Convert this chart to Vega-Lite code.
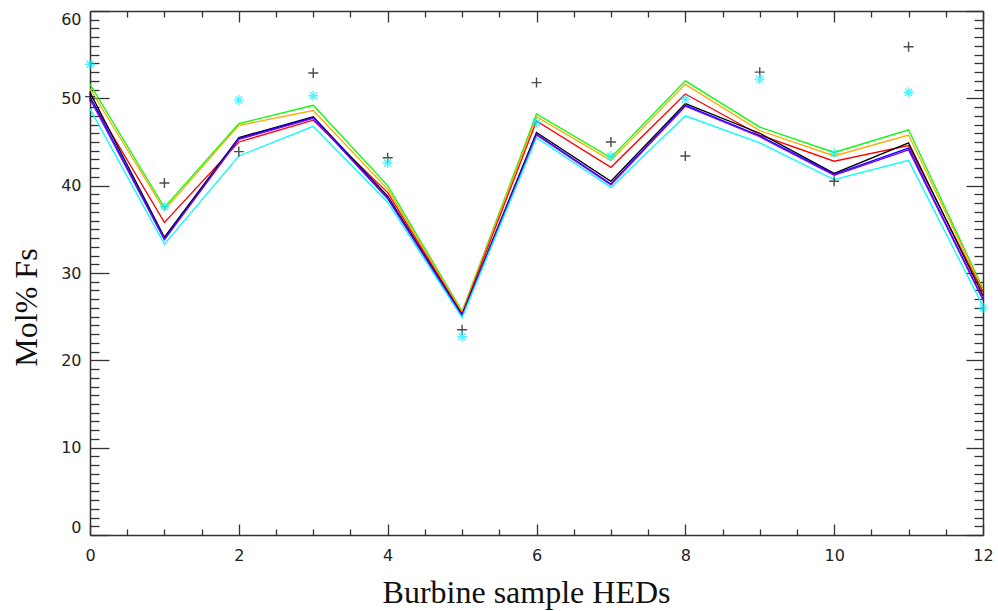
{
  "$schema": "https://vega.github.io/schema/vega-lite/v6.json",
  "width": 893,
  "height": 524,
  "autosize": {"type": "none"},
  "padding": {"left": 90, "top": 11, "right": 15, "bottom": 76},
  "background": "white",
  "config": {
    "view": {"stroke": null},
    "axis": {
      "grid": false,
      "domainColor": "#333333",
      "domainWidth": 1.5,
      "tickColor": "#333333",
      "tickWidth": 1.3,
      "labelFont": "DejaVu Sans",
      "labelFontSize": 16,
      "labelColor": "#222222",
      "labelOverlap": false,
      "titleFont": "Liberation Serif",
      "titleFontSize": 32,
      "titleFontWeight": "normal",
      "titleColor": "#111111"
    }
  },
  "datasets": {
    "models": [
      {"series": "g", "x": 0, "y": 51.6}, {"series": "g", "x": 1, "y": 37.5}, {"series": "g", "x": 2, "y": 47.1}, {"series": "g", "x": 3, "y": 49.2}, {"series": "g", "x": 4, "y": 40.0}, {"series": "g", "x": 5, "y": 25.6}, {"series": "g", "x": 6, "y": 48.2}, {"series": "g", "x": 7, "y": 43.2}, {"series": "g", "x": 8, "y": 52.0}, {"series": "g", "x": 9, "y": 46.7}, {"series": "g", "x": 10, "y": 43.8}, {"series": "g", "x": 11, "y": 46.4}, {"series": "g", "x": 12, "y": 28.2},
      {"series": "o", "x": 0, "y": 51.1}, {"series": "o", "x": 1, "y": 37.2}, {"series": "o", "x": 2, "y": 46.9}, {"series": "o", "x": 3, "y": 48.6}, {"series": "o", "x": 4, "y": 39.6}, {"series": "o", "x": 5, "y": 25.5}, {"series": "o", "x": 6, "y": 47.9}, {"series": "o", "x": 7, "y": 42.9}, {"series": "o", "x": 8, "y": 51.6}, {"series": "o", "x": 9, "y": 46.3}, {"series": "o", "x": 10, "y": 43.4}, {"series": "o", "x": 11, "y": 45.8}, {"series": "o", "x": 12, "y": 28.0},
      {"series": "r", "x": 0, "y": 50.1}, {"series": "r", "x": 1, "y": 35.8}, {"series": "r", "x": 2, "y": 45.0}, {"series": "r", "x": 3, "y": 47.5}, {"series": "r", "x": 4, "y": 39.2}, {"series": "r", "x": 5, "y": 25.3}, {"series": "r", "x": 6, "y": 47.4}, {"series": "r", "x": 7, "y": 42.1}, {"series": "r", "x": 8, "y": 50.5}, {"series": "r", "x": 9, "y": 45.8}, {"series": "r", "x": 10, "y": 42.8}, {"series": "r", "x": 11, "y": 44.6}, {"series": "r", "x": 12, "y": 27.8},
      {"series": "k", "x": 0, "y": 50.7}, {"series": "k", "x": 1, "y": 34.1}, {"series": "k", "x": 2, "y": 45.5}, {"series": "k", "x": 3, "y": 47.9}, {"series": "k", "x": 4, "y": 38.8}, {"series": "k", "x": 5, "y": 25.2}, {"series": "k", "x": 6, "y": 46.1}, {"series": "k", "x": 7, "y": 40.5}, {"series": "k", "x": 8, "y": 49.4}, {"series": "k", "x": 9, "y": 46.0}, {"series": "k", "x": 10, "y": 41.4}, {"series": "k", "x": 11, "y": 44.9}, {"series": "k", "x": 12, "y": 27.4},
      {"series": "b", "x": 0, "y": 50.2}, {"series": "b", "x": 1, "y": 33.9}, {"series": "b", "x": 2, "y": 45.4}, {"series": "b", "x": 3, "y": 47.8}, {"series": "b", "x": 4, "y": 38.6}, {"series": "b", "x": 5, "y": 25.1}, {"series": "b", "x": 6, "y": 45.9}, {"series": "b", "x": 7, "y": 40.2}, {"series": "b", "x": 8, "y": 49.2}, {"series": "b", "x": 9, "y": 45.7}, {"series": "b", "x": 10, "y": 41.3}, {"series": "b", "x": 11, "y": 44.3}, {"series": "b", "x": 12, "y": 27.0},
      {"series": "p", "x": 0, "y": 49.9}, {"series": "p", "x": 1, "y": 33.8}, {"series": "p", "x": 2, "y": 45.3}, {"series": "p", "x": 3, "y": 47.7}, {"series": "p", "x": 4, "y": 38.5}, {"series": "p", "x": 5, "y": 25.1}, {"series": "p", "x": 6, "y": 45.8}, {"series": "p", "x": 7, "y": 40.1}, {"series": "p", "x": 8, "y": 49.1}, {"series": "p", "x": 9, "y": 45.6}, {"series": "p", "x": 10, "y": 41.2}, {"series": "p", "x": 11, "y": 44.1}, {"series": "p", "x": 12, "y": 26.9},
      {"series": "c", "x": 0, "y": 48.8}, {"series": "c", "x": 1, "y": 33.3}, {"series": "c", "x": 2, "y": 43.4}, {"series": "c", "x": 3, "y": 46.8}, {"series": "c", "x": 4, "y": 38.1}, {"series": "c", "x": 5, "y": 24.9}, {"series": "c", "x": 6, "y": 45.5}, {"series": "c", "x": 7, "y": 39.8}, {"series": "c", "x": 8, "y": 48.0}, {"series": "c", "x": 9, "y": 44.9}, {"series": "c", "x": 10, "y": 40.7}, {"series": "c", "x": 11, "y": 42.9}, {"series": "c", "x": 12, "y": 26.2}
    ],
    "obs": [
      {"kind": "plus", "x": 0, "y": 50.2}, {"kind": "plus", "x": 1, "y": 40.3}, {"kind": "plus", "x": 2, "y": 43.9}, {"kind": "plus", "x": 3, "y": 52.9}, {"kind": "plus", "x": 4, "y": 43.2}, {"kind": "plus", "x": 5, "y": 23.5}, {"kind": "plus", "x": 6, "y": 51.8}, {"kind": "plus", "x": 7, "y": 45.0}, {"kind": "plus", "x": 8, "y": 43.4}, {"kind": "plus", "x": 9, "y": 53.0}, {"kind": "plus", "x": 10, "y": 40.5}, {"kind": "plus", "x": 11, "y": 55.9},
      {"kind": "star", "x": 0, "y": 53.9}, {"kind": "star", "x": 1, "y": 37.6}, {"kind": "star", "x": 2, "y": 49.8}, {"kind": "star", "x": 3, "y": 50.3}, {"kind": "star", "x": 4, "y": 42.6}, {"kind": "star", "x": 5, "y": 22.7}, {"kind": "star", "x": 6, "y": 47.2}, {"kind": "star", "x": 7, "y": 43.4}, {"kind": "star", "x": 8, "y": 49.9}, {"kind": "star", "x": 9, "y": 52.2}, {"kind": "star", "x": 10, "y": 43.7}, {"kind": "star", "x": 11, "y": 50.7}, {"kind": "star", "x": 12, "y": 26.0}
    ]
  },
  "layer": [
    {
      "data": {"name": "models"},
      "mark": {"type": "line", "strokeWidth": 1.3, "clip": true},
      "encoding": {
        "x": {
          "field": "x", "type": "quantitative",
          "scale": {"domain": [0, 12], "nice": false, "zero": false},
          "axis": {
            "orient": "bottom",
            "values": [0, 0.5, 1, 1.5, 2, 2.5, 3, 3.5, 4, 4.5, 5, 5.5, 6, 6.5, 7, 7.5, 8, 8.5, 9, 9.5, 10, 10.5, 11, 11.5, 12],
            "labelExpr": "datum.value % 2 === 0 ? format(datum.value, 'd') : ''",
            "tickSize": {"condition": {"test": "datum.value % 2 === 0", "value": -11}, "value": -6},
            "labelPadding": {"condition": {"test": "datum.value % 2 === 0", "value": 23}, "value": 18},
            "labelFlush": false,
            "title": "Burbine sample HEDs",
            "titleX": 436,
            "titleY": 57,
            "titleAlign": "center",
            "titleBaseline": "middle"
          }
        },
        "y": {
          "field": "y", "type": "quantitative",
          "scale": {"domain": [0, 60], "nice": false, "zero": false},
          "axis": {
            "orient": "left",
            "values": [0,1,2,3,4,5,6,7,8,9,10,11,12,13,14,15,16,17,18,19,20,21,22,23,24,25,26,27,28,29,30,31,32,33,34,35,36,37,38,39,40,41,42,43,44,45,46,47,48,49,50,51,52,53,54,55,56,57,58,59,60],
            "labelExpr": "datum.value % 10 === 0 ? format(datum.value, 'd') : ''",
            "tickSize": {"condition": {"test": "datum.value % 10 === 0", "value": -19}, "value": -9},
            "labelPadding": {"condition": {"test": "datum.value % 10 === 0", "value": 28}, "value": 18},
            "labelFlush": true,
            "title": "Mol% Fs",
            "titleAngle": -90,
            "titleX": -64,
            "titleY": 296,
            "titleAlign": "center",
            "titleBaseline": "middle"
          }
        },
        "color": {
          "field": "series", "type": "nominal",
          "scale": {"domain": ["g", "o", "r", "k", "b", "p", "c"], "range": ["#00ff00", "#ffaa00", "#ff0000", "#000000", "#0000ff", "#7f00ff", "#00ffff"]},
          "legend": null
        }
      }
    },
    {
      "data": {"name": "obs"},
      "mark": {"type": "point", "filled": false, "size": 100, "strokeWidth": 1.4},
      "encoding": {
        "x": {
          "field": "x", "type": "quantitative",
          "scale": {"domain": [0, 12], "nice": false, "zero": false},
          "axis": {
            "orient": "top",
            "values": [0, 0.5, 1, 1.5, 2, 2.5, 3, 3.5, 4, 4.5, 5, 5.5, 6, 6.5, 7, 7.5, 8, 8.5, 9, 9.5, 10, 10.5, 11, 11.5, 12],
            "labels": false,
            "tickSize": {"condition": {"test": "datum.value % 2 === 0", "value": -11}, "value": -6},
            "title": null
          }
        },
        "y": {
          "field": "y", "type": "quantitative",
          "scale": {"domain": [0, 60], "nice": false, "zero": false},
          "axis": {
            "orient": "right",
            "values": [0,1,2,3,4,5,6,7,8,9,10,11,12,13,14,15,16,17,18,19,20,21,22,23,24,25,26,27,28,29,30,31,32,33,34,35,36,37,38,39,40,41,42,43,44,45,46,47,48,49,50,51,52,53,54,55,56,57,58,59,60],
            "labels": false,
            "tickSize": {"condition": {"test": "datum.value % 10 === 0", "value": -17}, "value": -9},
            "title": null
          }
        },
        "shape": {
          "field": "kind", "type": "nominal",
          "scale": {"domain": ["plus", "star"], "range": ["M-1,0H1M0,-1V1", "M-1,0H1M0,-1V1M-0.7,-0.7L0.7,0.7M-0.7,0.7L0.7,-0.7"]},
          "legend": null
        },
        "stroke": {
          "field": "kind", "type": "nominal",
          "scale": {"domain": ["plus", "star"], "range": ["#000000", "#00f0ff"]},
          "legend": null
        }
      }
    }
  ],
  "resolve": {"axis": {"x": "independent", "y": "independent"}}
}
